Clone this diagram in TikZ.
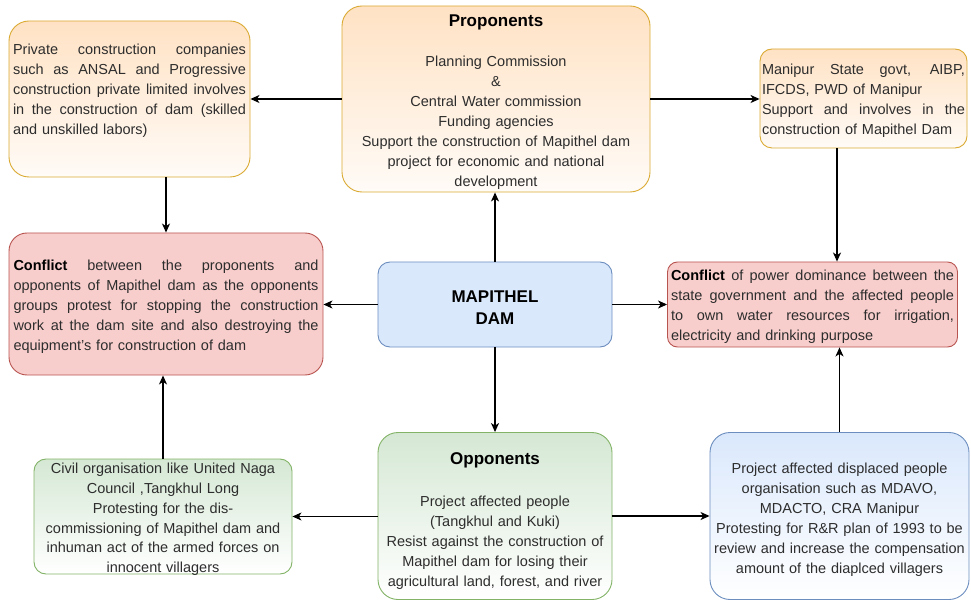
\documentclass[tikz,border=0pt]{standalone}
\usepackage{fontspec}
\setmainfont{Liberation Sans}
\usetikzlibrary{arrows.meta,calc}
\definecolor{orTop}{RGB}{255,226,196}
\definecolor{orBot}{RGB}{255,251,247}
\definecolor{orLine}{RGB}{218,170,50}
\definecolor{rdFill}{RGB}{248,206,204}
\definecolor{rdLine}{RGB}{184,84,80}
\definecolor{blFill}{RGB}{218,232,252}
\definecolor{blLine}{RGB}{108,142,191}
\definecolor{grTop}{RGB}{213,232,212}
\definecolor{grLine}{RGB}{130,179,102}
\definecolor{txt}{RGB}{45,45,45}
\newcommand{\jl}[2]{\makebox[#1][s]{\spaceskip=0.25em plus 1fil\relax\xspaceskip=\spaceskip #2}}
\newcommand{\sh}[1]{\rule{0pt}{\dimexpr0.75em+#1\relax}}
\newcommand{\ttl}[2]{{\bfseries\fontsize{17}{20}\selectfont\color{black}\sh{#1}#2}}
\begin{document}
\begin{tikzpicture}[x=1pt,y=-1pt,
  box/.style={draw, line width=0.9pt, inner sep=0pt, text=txt, font=\fontsize{14.5}{20}\selectfont},
  orbox/.style={box, draw=orLine, top color=orTop, bottom color=orBot},
  rdbox/.style={box, draw=rdLine, fill=rdFill},
  blbox/.style={box, draw=blLine, fill=blFill},
  grbox/.style={box, draw=grLine, top color=grTop, bottom color=white},
  bgbox/.style={box, draw=blLine, top color=blFill, bottom color=white},
  plaintext/.style={inner sep=0pt, text=txt, font=\fontsize{14.5}{19.8}\selectfont},
  arr/.style={-{Stealth[length=9pt,width=8pt,inset=2.5pt]}, line width=1.1pt, black}]
\useasboundingbox (0,0) rectangle (971,601);

\node[orbox, rounded corners=20pt, minimum width=241pt, minimum height=156pt, text width=233pt, align=left] (A) at (129.5,99)
 {\jl{233pt}{Private construction companies}\\
  \jl{233pt}{such as ANSAL and Progressive}\\
  \jl{233pt}{construction private limited involves}\\
  \jl{233pt}{in the construction of dam (skilled}\\
  and unskilled labors)\\ ~};

\node[orbox, rounded corners=20pt, minimum width=308pt, minimum height=186pt, text width=300pt, align=center] (P) at (496,99)
 {\ttl{6pt}{Proponents}\\[20pt]
  Planning Commission\\ \&\\ Central Water commission\\ Funding agencies\\
  Support the construction of Mapithel dam\\ project for economic and national\\ development};

\node[orbox, rounded corners=12pt, minimum width=207pt, minimum height=99pt, text width=203pt, align=left] (M) at (863.5,98.5)
 {\sh{4pt}\jl{203pt}{Manipur State govt, AIBP,}\\
  IFCDS, PWD of Manipur\\
  \jl{203pt}{Support and involves in the}\\
  construction of Mapithel Dam};

\node[rdbox, rounded corners=18pt, minimum width=314pt, minimum height=142pt, text width=305pt, align=left] (CL) at (166,304)
 {\sh{6pt}\jl{305pt}{\textbf{\color{black}Conflict} between the proponents and}\\
  \jl{305pt}{opponents of Mapithel dam as the opponents}\\
  \jl{305pt}{groups protest for stopping the construction}\\
  \jl{305pt}{work at the dam site and also destroying the}\\
  equipment's for construction of dam};

\node[blbox, rounded corners=12pt, minimum width=234pt, minimum height=85pt, text width=230pt, align=center,
      font=\bfseries\fontsize{17}{22}\selectfont, text=black] (D) at (495,304.5)
 {\sh{6pt}MAPITHEL\\ DAM};

\node[rdbox, rounded corners=10pt, minimum width=290pt, minimum height=85pt, text width=283pt, align=left] (CR) at (812.5,304.5)
 {\sh{5pt}\jl{283pt}{\textbf{\color{black}Conflict} of power dominance between the}\\
  \jl{283pt}{state government and the affected people}\\
  \jl{283pt}{to own water resources for irrigation,}\\
  electricity and drinking purpose};

\node[grbox, rounded corners=12pt, minimum width=258pt, minimum height=115pt] (C) at (163,516.5) {};
\node[plaintext, text width=258pt, align=center] (Ct) at (163,519.5)
 {Civil organisation like United Naga\\ Council ,Tangkhul Long\\ Protesting for the dis-\\
  commissioning of Mapithel dam and\\ inhuman act of the armed forces on\\ innocent villagers};

\node[grbox, rounded corners=20pt, minimum width=234pt, minimum height=167pt, text width=234pt, align=center] (O) at (495,516)
 {\ttl{9pt}{Opponents}\\[22pt]
  Project affected people\\ (Tangkhul and Kuki)\\ Resist against the construction of\\
  Mapithel dam for losing their\\ agricultural land, forest, and river};

\node[bgbox, rounded corners=20pt, minimum width=259pt, minimum height=167pt, text width=259pt, align=center] (PA) at (839.5,516)
 {\sh{8pt}Project affected displaced people\\ organisation such as MDAVO,\\ MDACTO, CRA Manipur\\
  Protesting for R\&R plan of 1993 to be\\ review and increase the compensation\\ amount of the diaplced villagers};

\coordinate (mx) at (837,0);

\draw[arr] (P.west) -- (P.west -| A.east);
\draw[arr] (P.east) -- (P.east -| M.west);
\draw[arr] (D.north) -- (D.north |- P.south);
\draw[arr] (A.south -| CL.north) -- (CL.north);
\draw[arr] (D.west) -- (D.west -| CL.east);
\draw[arr] (D.east) -- (D.east -| CR.west);
\draw[arr] (M.south -| mx) -- (CR.north -| mx);
\draw[arr] (D.south) -- (D.south |- O.north);
\draw[arr] (C.east -| O.west) -- (C.east);
\draw[arr] (O.east) -- (O.east -| PA.west);
\draw[arr] (C.north) -- (C.north |- CL.south);
\draw[arr] (PA.north) -- (PA.north |- CR.south);
\end{tikzpicture}
\end{document}
